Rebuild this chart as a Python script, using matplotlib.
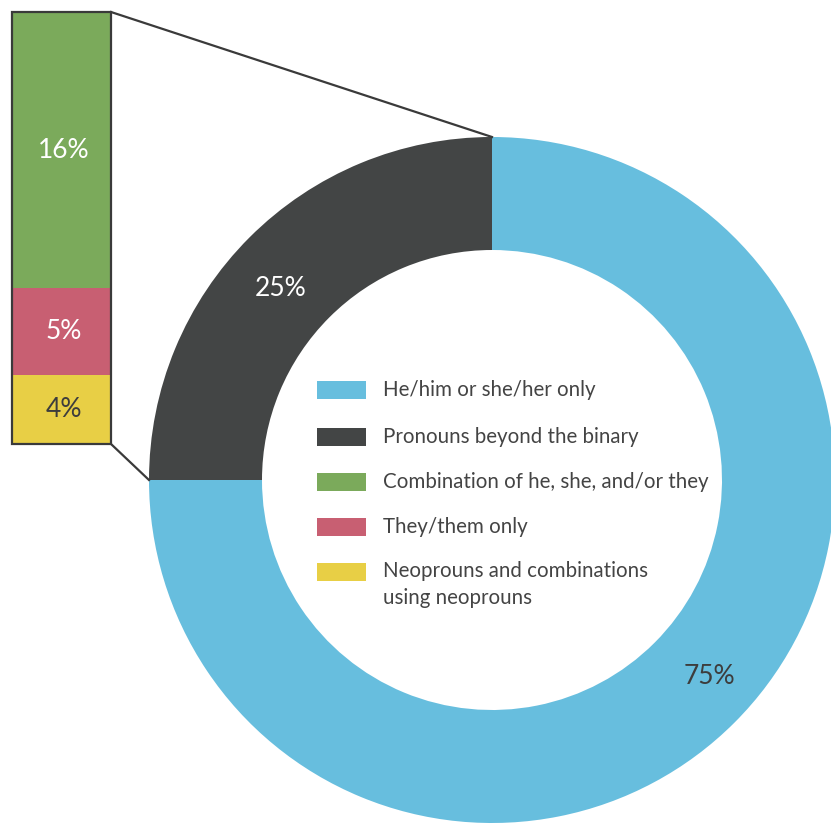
import matplotlib
matplotlib.use("Agg")
import matplotlib.pyplot as plt
from matplotlib.patches import Rectangle

plt.rcParams['font.family'] = ['Lato', 'DejaVu Sans']

# Data
donut_labels = ["He/him or she/her only", "Pronouns beyond the binary"]
donut_values = [75, 25]
donut_colors = ["#67BEDE", "#434545"]

bar_labels = ["Neoprouns and combinations\nusing neoprouns", "They/them only",
              "Combination of he, she, and/or they"]
bar_values = [4, 5, 16]
bar_colors = ["#E8CF45", "#C85F72", "#7BAA5B"]
bar_text_colors = ["#3d3d3d", "white", "white"]

legend_labels = ["He/him or she/her only", "Pronouns beyond the binary",
                 "Combination of he, she, and/or they", "They/them only",
                 "Neoprouns and combinations\nusing neoprouns"]
legend_colors = ["#67BEDE", "#434545", "#7BAA5B", "#C85F72", "#E8CF45"]

W, H = 831, 825
fig = plt.figure(figsize=(W / 100, H / 100), dpi=100)
ax = fig.add_axes([0, 0, 1, 1])

# Donut geometry (pixel-like data coords, y up)
cx, cy = 492, H - 480
R, ring = 343, 113

ax.pie(donut_values, colors=donut_colors, startangle=180, counterclock=True,
       center=(cx, cy), radius=R, wedgeprops=dict(width=ring, linewidth=0))

# Donut labels
ax.text(281, H - 288, "25%", color="white", fontsize=19, ha="center", va="center")
ax.text(709, H - 676, "75%", color="#3d3d3d", fontsize=19, ha="center", va="center")

# Stacked bar
bx0, bx1 = 12, 111
by0, by1 = H - 444, H - 12
scale = (by1 - by0) / sum(bar_values)
bottom = by0
for v, c, tc in zip(bar_values, bar_colors, bar_text_colors):
    h = v * scale
    ax.bar((bx0 + bx1) / 2, h, width=bx1 - bx0, bottom=bottom, color=c, linewidth=0)
    ax.text((bx0 + bx1) / 2 + 2, bottom + h / 2, f"{v}%", color=tc, fontsize=19,
            ha="center", va="center")
    bottom += h
ax.add_patch(Rectangle((bx0, by0), bx1 - bx0, by1 - by0, fill=False,
                       edgecolor="#3a3a3a", linewidth=1.6))

# Connector lines
ax.plot([bx1, cx], [by1, cy + R], color="#3a3a3a", linewidth=1.6)
ax.plot([bx1, cx - R], [by0, cy], color="#3a3a3a", linewidth=1.6)

# Legend
ly = [390, 437, 482, 527, 572]
for y, lab, c in zip(ly, legend_labels, legend_colors):
    ax.add_patch(Rectangle((317, H - y - 9), 49, 18, color=c, linewidth=0))
    if "\n" in lab:
        ax.text(383, H - y + 11, lab, color="#444444", fontsize=14.8, ha="left",
                va="top", linespacing=1.42)
    else:
        ax.text(383, H - y, lab, color="#444444", fontsize=14.8, ha="left",
                va="center")

ax.set_xlim(0, W)
ax.set_ylim(0, H)
ax.set_aspect("equal")
ax.axis("off")

fig.savefig("out.png", dpi=100, facecolor="white")
